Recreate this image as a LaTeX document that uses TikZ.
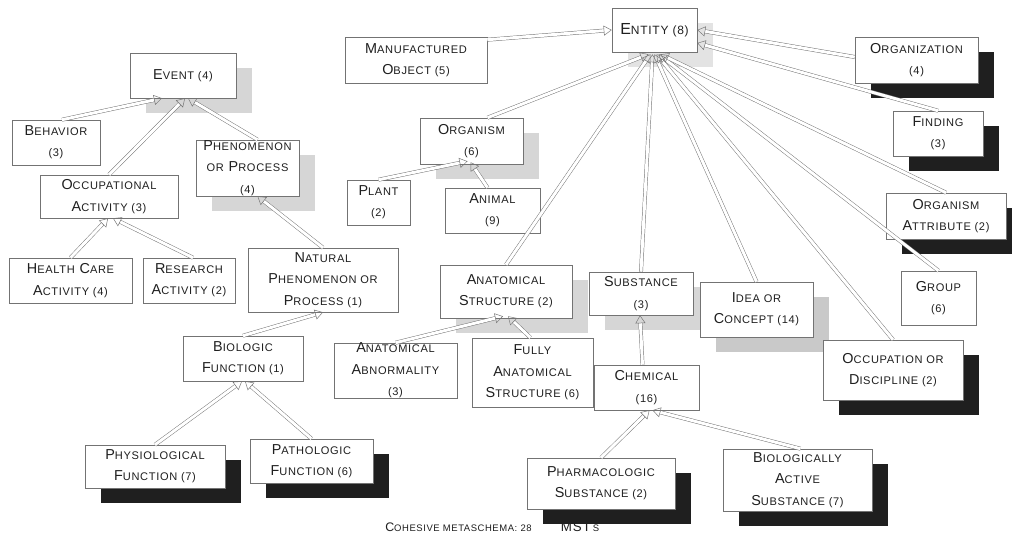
\documentclass[tikz,border=0pt]{standalone}
\usepackage{fontspec}
\setmainfont{Liberation Sans}[LetterSpace=6.0]
\usetikzlibrary{arrows.meta,shadows,calc}

\definecolor{ink}{gray}{0.12}
\definecolor{edge}{gray}{0.45}

% small capitals faked from a smaller upright size
\newcommand\Sm[1]{{\fontsize{8.3}{16}\selectfont #1}}
\newcommand\SmL[1]{{\fontsize{9}{16}\selectfont #1}}

% \boxnode{style}{name}{x1}{y1}{x2}{y2}{text}: a box given by its corners
\newcommand\boxnode[7]{%
  \node[box,#1,minimum width={(#5-#3)*0.75pt},minimum height={(#6-#4)*0.75pt}]
    (#2) at ({(#3+#5)/2},{(#4+#6)/2}) {#7};}

\tikzset{
  box/.style={draw=edge, line width=0.4pt, fill=white, inner sep=0pt,
    align=center, text=ink, font=\fontsize{10.8}{16}\selectfont},
  plain/.style={},
  darkshadow/.style={general shadow={fill=black!88, shadow xshift=12pt, shadow yshift=-11.25pt}},
  lightshadow/.style={general shadow={fill=gray!32, shadow xshift=12pt, shadow yshift=-11.25pt}},
  paleshadow/.style={general shadow={fill=gray!22, shadow xshift=12pt, shadow yshift=-11.25pt}},
  midshadow/.style={general shadow={fill=gray!42, shadow xshift=12pt, shadow yshift=-11.25pt}},
  link/.style={draw=edge, line width=0.35pt, double=white, double distance=2.2pt,
    -{Triangle[open, length=6pt, width=7.5pt]}},
}

\begin{document}
\begin{tikzpicture}[x=0.75pt, y=-0.75pt]
\useasboundingbox[fill=white] (0,0) rectangle (1012,538);

% ---- top of the hierarchy
\boxnode{paleshadow, font=\fontsize{12}{16}\selectfont}{entity}{612}{8}{697}{52}{E\SmL{NTITY (8)}}
\boxnode{plain}{manuf}{345}{37}{487}{83}{M\Sm{ANUFACTURED}\\ O\Sm{BJECT (5)}}
\boxnode{darkshadow}{organization}{855}{37}{978}{83}{O\Sm{RGANIZATION}\\ \Sm{(4)}}
\boxnode{darkshadow}{finding}{893}{111}{983}{156}{F\Sm{INDING}\\ \Sm{(3)}}
\boxnode{darkshadow}{orgattr}{886}{193}{1006}{239}{O\Sm{RGANISM}\\ A\Sm{TTRIBUTE (2)}}
\boxnode{plain}{group}{901}{271}{976}{325}{G\Sm{ROUP}\\ \Sm{(6)}}

% ---- events and processes
\boxnode{lightshadow}{event}{130}{53}{236}{98}{E\Sm{VENT (4)}}
\boxnode{plain}{behavior}{12}{120}{100}{165}{B\Sm{EHAVIOR}\\ \Sm{(3)}}
\boxnode{lightshadow}{phenproc}{196}{140}{299}{196}{P\Sm{HENOMENON}\\ \Sm{OR} P\Sm{ROCESS}\\ \Sm{(4)}}
\boxnode{plain}{occact}{40}{175}{178}{218}{O\Sm{CCUPATIONAL}\\ A\Sm{CTIVITY (3)}}
\boxnode{plain}{health}{9}{258}{132}{303}{H\Sm{EALTH} C\Sm{ARE}\\ A\Sm{CTIVITY (4)}}
\boxnode{plain}{research}{143}{258}{235}{303}{R\Sm{ESEARCH}\\ A\Sm{CTIVITY (2)}}
\boxnode{plain}{natphen}{248}{248}{398}{312}{N\Sm{ATURAL}\\ P\Sm{HENOMENON OR}\\ P\Sm{ROCESS (1)}}
\boxnode{plain}{biofunc}{183}{336}{303}{381}{B\Sm{IOLOGIC}\\ F\Sm{UNCTION (1)}}
\boxnode{darkshadow}{physio}{85}{445}{225}{488}{P\Sm{HYSIOLOGICAL}\\ F\Sm{UNCTION (7)}}
\boxnode{darkshadow}{patho}{250}{439}{373}{483}{P\Sm{ATHOLOGIC}\\ F\Sm{UNCTION (6)}}

% ---- organisms and anatomy
\boxnode{lightshadow}{organism}{420}{118}{523}{164}{O\Sm{RGANISM}\\ \Sm{(6)}}
\boxnode{plain}{plant}{347}{180}{410}{225}{P\Sm{LANT}\\ \Sm{(2)}}
\boxnode{plain}{animal}{445}{188}{540}{233}{A\Sm{NIMAL}\\ \Sm{(9)}}
\boxnode{lightshadow}{anatstruct}{440}{265}{572}{318}{A\Sm{NATOMICAL}\\ S\Sm{TRUCTURE (2)}}
\boxnode{plain}{anatabn}{334}{343}{457}{398}{A\Sm{NATOMICAL}\\ A\Sm{BNORMALITY}\\ \Sm{(3)}}
\boxnode{plain}{fully}{472}{338}{593}{407}{F\Sm{ULLY}\\ A\Sm{NATOMICAL}\\ S\Sm{TRUCTURE (6)}}

% ---- substances, ideas, occupations
\boxnode{lightshadow}{substance}{589}{272}{693}{315}{S\Sm{UBSTANCE}\\ \Sm{(3)}}
\boxnode{midshadow}{idea}{700}{282}{813}{337}{I\Sm{DEA OR}\\ C\Sm{ONCEPT (14)}}
\boxnode{plain}{chemical}{594}{365}{699}{410}{C\Sm{HEMICAL}\\ \Sm{(16)}}
\boxnode{darkshadow}{occdisc}{823}{340}{963}{400}{O\Sm{CCUPATION OR}\\ D\Sm{ISCIPLINE (2)}}
\boxnode{darkshadow}{pharma}{527}{458}{675}{509}{P\Sm{HARMACOLOGIC}\\ S\Sm{UBSTANCE (2)}}
\boxnode{darkshadow}{bioactive}{723}{449}{872}{511}{B\Sm{IOLOGICALLY}\\ A\Sm{CTIVE}\\ S\Sm{UBSTANCE (7)}}

% ---- caption
\node[anchor=west, text=ink, font=\fontsize{9.3}{12}\selectfont, inner sep=0pt] (caption) at (385,527)
  {C{\fontsize{7.1}{12}\selectfont OHESIVE METASCHEMA: 28}\hspace{22pt}{\fontsize{10}{12}\selectfont MST}\,{\fontsize{7.1}{12}\selectfont S}};

% ---- is-a links, child to parent
\draw[link] ($(manuf.north east)+(0,3)$) -- (entity.west);
\draw[link] ($(organization.west)+(0,-3)$) -- (entity.east);
\draw[link] (finding.north) -- ($(entity.east)+(0,13)$);
\draw[link] ($(organism.north)+(16,0)$) -- ($(entity.south)+(-6,2)$);
\draw[link] (anatstruct.north) -- ($(entity.south)+(-4,2)$);
\draw[link] (substance.north) -- ($(entity.south)+(-2,2)$);
\draw[link] (idea.north) -- ($(entity.south)+(0,2)$);
\draw[link] (occdisc.north) -- ($(entity.south)+(2,2)$);
\draw[link] (group.north) -- ($(entity.south)+(4,2)$);
\draw[link] (orgattr.north) -- ($(entity.south)+(6,2)$);

\draw[link] ($(behavior.north)+(6,0)$) -- ($(event.south)+(-21,0)$);
\draw[link] (occact.north) -- ($(event.south)+(2,0)$);
\draw[link] ($(phenproc.north)+(10,0)$) -- ($(event.south)+(5,0)$);
\draw[link] (health.north) -- ($(occact.south)+(-1,0)$);
\draw[link] ($(research.north)+(4,0)$) -- ($(occact.south)+(4,0)$);
\draw[link] (natphen.north) -- ($(phenproc.south)+(10,0)$);
\draw[link] (biofunc.north) -- (natphen.south);
\draw[link] (physio.north) -- ($(biofunc.south)+(-1,0)$);
\draw[link] (patho.north) -- ($(biofunc.south)+(2,0)$);

\draw[link] (plant.north) -- ($(organism.south)+(-4,-3)$);
\draw[link] ($(animal.north)+(-5,0)$) -- ($(organism.south)+(-1,-2)$);
\draw[link] (anatabn.north) -- ($(anatstruct.south)+(-3,-2)$);
\draw[link] ($(fully.north)+(-2,0)$) -- ($(anatstruct.south)+(2,-2)$);
\draw[link] ($(chemical.north)+(-4,0)$) -- ($(substance.south)+(-1,0)$);
\draw[link] (pharma.north) -- ($(chemical.south)+(3,0)$);
\draw[link] ($(bioactive.north)+(3,0)$) -- ($(chemical.south)+(6,0)$);
\end{tikzpicture}
\end{document}
